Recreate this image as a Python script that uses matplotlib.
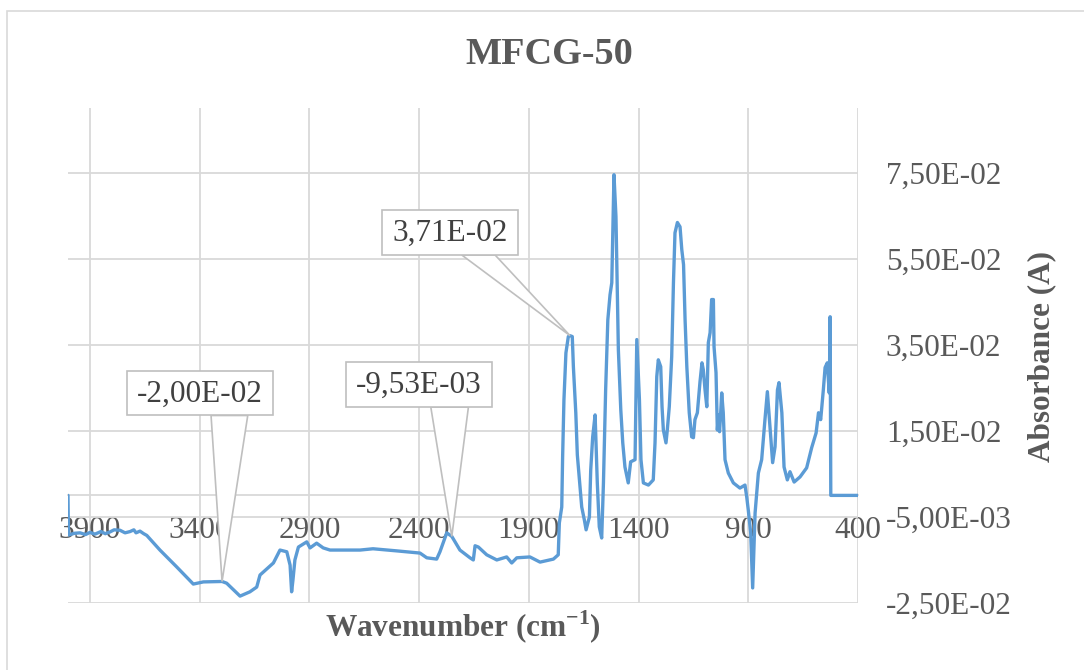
import matplotlib
matplotlib.use("Agg")
import matplotlib.pyplot as plt
from matplotlib.ticker import FixedLocator, FuncFormatter
from matplotlib.patches import Rectangle, Polygon
from matplotlib.transforms import ScaledTranslation, Affine2D

# ---------------- data ----------------
wavenumber = [4000, 3998, 3970, 3945, 3920, 3900, 3877, 3850, 3830, 3809, 3790, 3763,
              3740, 3717, 3700, 3690, 3672, 3655, 3641, 3581, 3505, 3429, 3383, 3298,
              3277, 3216, 3171, 3140, 3125, 3064, 3034, 3003, 2988, 2981, 2975, 2966,
              2950, 2912, 2897, 2867, 2837, 2806, 2669, 2610, 2500, 2396, 2365, 2320,
              2305, 2274, 2251, 2236, 2214, 2168, 2153, 2145, 2130, 2092, 2046, 2001,
              1978, 1955, 1895, 1849, 1788, 1766, 1761, 1750, 1746, 1740, 1731, 1720,
              1712, 1702, 1697, 1686, 1679, 1667, 1659, 1647, 1639, 1624, 1618, 1609,
              1598, 1588, 1579, 1568, 1560, 1550, 1540, 1530, 1522, 1512, 1503, 1492,
              1481, 1472, 1462, 1447, 1436, 1416, 1408, 1396, 1389, 1378, 1355, 1333,
              1325, 1317, 1310, 1299, 1293, 1287, 1275, 1269, 1260, 1249, 1241, 1234,
              1223, 1211, 1203, 1195, 1188, 1180, 1169, 1158, 1150, 1143, 1132, 1120,
              1111, 1105, 1097, 1089, 1082, 1074, 1067, 1059, 1056, 1047, 1041, 1036,
              1031, 1027, 1021, 1014, 1006, 991, 968, 938, 915, 907, 900, 889,
              880, 869, 854, 839, 824, 813, 801, 789, 778, 767, 760, 747,
              737, 722, 710, 691, 664, 634, 611, 591, 580, 570, 558, 550,
              540, 531, 527, 524, 400]

absorbance_milli = [0.0, -9.2, -8.8, -8.7, -9.1, -8.6, -9.0, -8.4, -8.9, -8.5, -8.0, -8.1,
                    -8.7, -8.4, -8.0, -8.7, -8.3, -8.9, -9.3, -12.7, -16.6, -20.6, -20.1, -20.0,
                    -20.4, -23.4, -22.4, -21.3, -18.5, -15.7, -12.7, -13.1, -16.2, -22.4, -19.7, -15.0,
                    -12.0, -10.8, -12.2, -11.1, -12.2, -12.7, -12.7, -12.4, -12.9, -13.4, -14.5, -14.8,
                    -13.1, -8.7, -9.53, -10.8, -12.7, -14.5, -15.0, -11.7, -12.0, -13.8, -15.0, -14.3,
                    -15.7, -14.5, -14.3, -15.5, -14.8, -13.8, -6.4, -2.7, 9.0, 22.2, 33.1, 36.9,
                    37.1, 36.9, 29.9, 19.2, 9.4, 2.0, -2.7, -5.7, -8.0, -5.0, 5.9, 13.6,
                    18.7, 2.9, -7.3, -9.9, 2.9, 24.5, 40.8, 46.6, 49.4, 74.5, 64.8, 33.8,
                    19.9, 12.2, 6.6, 2.9, 7.8, 8.3, 36.2, 22.2, 8.3, 2.9, 2.4, 3.6,
                    12.2, 27.6, 31.5, 29.9, 20.6, 15.2, 12.2, 15.2, 20.6, 32.2, 49.4, 61.0,
                    63.4, 62.4, 57.1, 53.6, 40.8, 29.9, 19.2, 13.6, 13.4, 17.6, 19.2, 26.4,
                    30.8, 29.2, 24.5, 20.6, 35.5, 37.8, 45.5, 45.5, 34.5, 28.5, 15.2, 18.7,
                    14.8, 18.0, 23.8, 19.2, 8.3, 5.2, 2.9, 1.7, 2.4, -0.4, -3.4, -8.7,
                    -21.5, -4.1, 5.2, 8.3, 17.6, 24.1, 15.9, 7.6, 11.3, 24.5, 26.2, 19.2,
                    6.6, 3.6, 5.5, 3.1, 4.3, 6.4, 11.1, 14.5, 19.2, 17.6, 24.5, 29.7,
                    30.8, 23.8, 41.5, 0.0, 0.0]
absorbance = [v / 1000.0 for v in absorbance_milli]

x_ticks = [3900, 3400, 2900, 2400, 1900, 1400, 900, 400]
y_ticks = [-0.025, -0.005, 0.015, 0.035, 0.055, 0.075]

callout_wn = [3298, 2251, 1712]
callout_val = [-0.0200, -0.00953, 0.0371]
callout_text = ["-2,00E-02", "-9,53E-03", "3,71E-02"]

title_text = "MFCG-50"
xlabel_text = "Wavenumber (cm$^{\\mathregular{-1}}$)"
ylabel_text = "Absorbance (A)"

# ---------------- style ----------------
SERIF = ["Liberation Serif", "DejaVu Serif"]
plt.rcParams["font.family"] = SERIF
TXT = "#595959"
GRID = "#D9D9D9"
LINE = "#5B9BD5"
BOXEDGE = "#BFBFBF"
DPI = 100

fig = plt.figure(figsize=(10.84, 6.70), dpi=DPI)
fig.patch.set_facecolor("white")

# chart-area border
fig.patches.append(Rectangle((7 / 1084, -0.2), 1.2, 1.2 - 11 / 670,
                             transform=fig.transFigure, fill=False,
                             edgecolor=GRID, linewidth=1.2))

ax = fig.add_axes([68 / 1084, 67 / 670, 790 / 1084, 495 / 670])
ax.set_xlim(4000, 400)
ax.set_ylim(-0.025, 0.09)

ax.plot(wavenumber, absorbance, color=LINE, linewidth=2.4,
        solid_joinstyle="round", solid_capstyle="round", zorder=3)

ax.xaxis.set_major_locator(FixedLocator(x_ticks))
ax.yaxis.set_major_locator(FixedLocator(y_ticks))
ax.yaxis.set_major_formatter(FuncFormatter(lambda v, p: f"{v:.2E}".replace(".", ",")))
ax.xaxis.set_major_formatter(FuncFormatter(lambda v, p: f"{int(round(v))}"))

ax.grid(True, color=GRID, linewidth=1.3)
ax.set_axisbelow(True)

for s in ["left", "top", "right"]:
    ax.spines[s].set_visible(False)
ax.spines["bottom"].set_position(("data", 0))
ax.spines["bottom"].set_color(GRID)
ax.spines["bottom"].set_linewidth(1.3)

ax.yaxis.tick_right()
ax.tick_params(axis="y", length=0, pad=20, labelsize=22.5, labelcolor=TXT)
ax.tick_params(axis="x", length=0, pad=15, labelsize=22.5, labelcolor=TXT)
for lab in ax.get_yticklabels():
    lab.set_horizontalalignment("left")

# callouts: geometry in pixel offsets relative to the labelled point
# (box left, box right, box bottom, box top, pointer base left, pointer base right)
callout_geom = [(-95.3, 51.3, 166.0, 210.7, -11.0, 25.7),
                (-106.0, 40.6, 129.3, 174.0, -21.0, 16.6),
                (-188.3, -52.3, 80.7, 125.7, -108.3, -75.0)]
px = Affine2D().scale(1.0 / DPI)
for wn, val, txt, g in zip(callout_wn, callout_val, callout_text, callout_geom):
    tr = px + fig.dpi_scale_trans + ScaledTranslation(wn, val, ax.transData)
    bl, br, bb, bt, pl, pr = g
    ax.add_patch(Polygon([(0, 0), (pl, bb), (pr, bb)], closed=True,
                         facecolor="white", edgecolor=BOXEDGE, linewidth=1.2,
                         transform=tr, zorder=5, clip_on=False))
    ax.add_patch(Rectangle((bl, bb), br - bl, bt - bb, facecolor="white",
                           edgecolor=BOXEDGE, linewidth=1.2, transform=tr,
                           zorder=6, clip_on=False))
    ax.text((bl + br) / 2, (bb + bt) / 2 - 1, txt, transform=tr, ha="center",
            va="center", fontsize=22.5, color="#404040", zorder=7)

fig.text(549 / 1084, 1 - 54 / 670, title_text, ha="center", va="center",
         fontsize=27.5, fontweight="bold", color=TXT)
fig.text(463 / 1084, 1 - 627 / 670, xlabel_text, ha="center", va="center",
         fontsize=22.5, fontweight="bold", color=TXT)
fig.text(1042 / 1084, 1 - 357 / 670, ylabel_text, ha="center", va="center",
         rotation=90, fontsize=22.5, fontweight="bold", color=TXT)

fig.savefig("out.png", dpi=DPI, facecolor="white")
